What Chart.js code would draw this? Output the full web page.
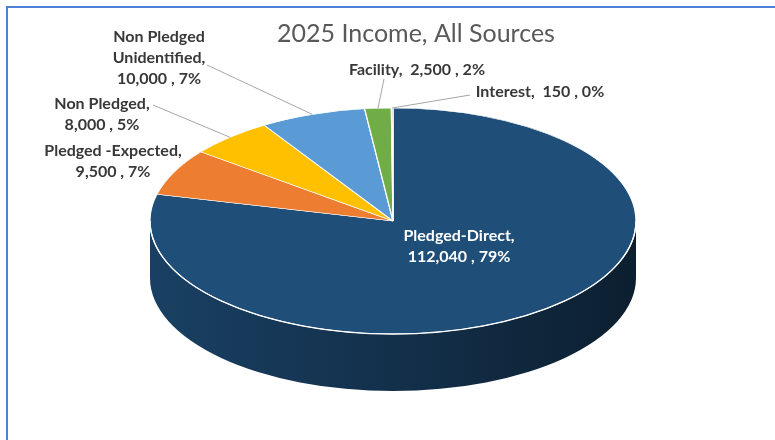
<!DOCTYPE html>
<html>
<head>
<meta charset="utf-8">
<script src="https://cdn.jsdelivr.net/npm/chart.js@4.4.1/dist/chart.umd.min.js"></script>
<style>
  body { margin: 0; background: #fff; }
  #wrap { position: relative; width: 775px; height: 440px; overflow: hidden; }
  #frame { position: absolute; left: 6px; top: 6px; width: 900px; height: 600px; border: 2px solid #4e7fd6; }
  canvas { position: absolute; left: 0; top: 0; }
</style>
</head>
<body>
<div id="wrap">
  <div id="frame"></div>
  <canvas id="grafico" width="775" height="440"></canvas>
</div>
<script>
// dados
const categorias = ["Pledged-Direct", "Pledged -Expected", "Non Pledged", "Non Pledged Unidentified", "Facility", "Interest"];
const valores = [112040, 9500, 8000, 10000, 2500, 150];
const percentuais = ["79%", "7%", "5%", "7%", "2%", "0%"];

// estilo
const cores = ["#1F4E79", "#ED7D31", "#FFC000", "#5B9BD5", "#70AD47", "#A5A5A5"];
const fonteRotulo = "bold 16px Lato";

// geometria da pizza "3D" (elipse do topo + altura da lateral)
const PIZZA = { cx: 393, cy: 221, rx: 243, ry: 113, profundidade: 57 };

// posicao dos rotulos (centro da 1a linha) e inicio da linha guia
const rotulos = [
  { x: 459, y: 236, cor: "#ffffff", linhas: 2 },
  { x: 113, y: 151, linhas: 2 },
  { x: 102, y: 104, linhas: 2, guia: [153, 105] },
  { x: 159, y: 37, linhas: 3, guia: [207, 65] },
  { x: 417, y: 70, linhas: 1, guia: [384, 79] },
  { x: 540, y: 92, linhas: 1, guia: [470, 95] }
];

function escurecer(hex, f) {
  const n = parseInt(hex.slice(1), 16);
  const r = Math.round(((n >> 16) & 255) * f);
  const g = Math.round(((n >> 8) & 255) * f);
  const b = Math.round((n & 255) * f);
  return `rgb(${r},${g},${b})`;
}

function textoRotulo(i, modo) {
  const nome = categorias[i];
  const valor = valores[i].toLocaleString("en-US");
  if (modo === 1) return [`${nome},  ${valor} , ${percentuais[i]}`];
  if (modo === 3) {
    const k = nome.lastIndexOf(" ");
    return [nome.slice(0, k), nome.slice(k + 1) + ",", `${valor} , ${percentuais[i]}`];
  }
  return [`${nome},`, `${valor} , ${percentuais[i]}`];
}

const pizza3d = {
  id: "pizza3d",
  beforeDatasetsDraw(chart) {
    const ctx = chart.ctx;
    const arcos = chart.getDatasetMeta(0).data;
    const { cx, cy, rx, ry, profundidade } = PIZZA;

    // lateral visivel (metade da frente)
    arcos.forEach((arco, i) => {
      const ini = Math.max(arco.startAngle, 0);
      const fim = Math.min(arco.endAngle, Math.PI);
      if (fim <= ini) return;
      const grad = ctx.createLinearGradient(cx - rx, 0, cx + rx, 0);
      grad.addColorStop(0, escurecer(cores[i], 0.82));
      grad.addColorStop(0.5, escurecer(cores[i], 0.62));
      grad.addColorStop(1, escurecer(cores[i], 0.4));
      ctx.beginPath();
      ctx.ellipse(cx, cy, rx, ry, 0, ini, fim);
      ctx.ellipse(cx, cy + profundidade, rx, ry, 0, fim, ini, true);
      ctx.closePath();
      ctx.fillStyle = grad;
      ctx.fill();
    });

    // achatar o topo
    const a = arcos[0];
    ctx.save();
    ctx.translate(cx, cy);
    ctx.scale(rx / a.outerRadius, ry / a.outerRadius);
    ctx.translate(-a.x, -a.y);
  },
  afterDatasetsDraw(chart) {
    const ctx = chart.ctx;
    ctx.restore();
    const { cx, cy, rx, ry } = PIZZA;
    // borda branca entre topo e lateral
    ctx.save();
    ctx.beginPath();
    ctx.ellipse(cx, cy, rx, ry, 0, 0, Math.PI);
    ctx.strokeStyle = "#ffffff";
    ctx.lineWidth = 1.3;
    ctx.stroke();
    ctx.restore();
  },
  afterDraw(chart) {
    const ctx = chart.ctx;
    const arcos = chart.getDatasetMeta(0).data;
    const { cx, cy, rx, ry } = PIZZA;
    ctx.save();
    // linhas guia
    rotulos.forEach((r, i) => {
      if (!r.guia) return;
      const meio = (arcos[i].startAngle + arcos[i].endAngle) / 2;
      ctx.beginPath();
      ctx.moveTo(r.guia[0], r.guia[1]);
      ctx.lineTo(cx + rx * Math.cos(meio), cy + ry * Math.sin(meio));
      ctx.strokeStyle = "#a6a6a6";
      ctx.lineWidth = 1;
      ctx.stroke();
    });
    // textos
    ctx.font = fonteRotulo;
    ctx.textAlign = "center";
    ctx.textBaseline = "middle";
    rotulos.forEach((r, i) => {
      ctx.fillStyle = r.cor || "#383838";
      textoRotulo(i, r.linhas).forEach((linha, j) => {
        ctx.fillText(linha, r.x, r.y + j * 21);
      });
    });
    ctx.restore();
  }
};

new Chart(document.getElementById("grafico"), {
  type: "pie",
  data: {
    labels: categorias,
    datasets: [{
      data: valores,
      backgroundColor: cores,
      borderColor: "#ffffff",
      borderWidth: 1,
      clip: false
    }]
  },
  options: {
    responsive: false,
    animation: false,
    events: [],
    layout: { padding: { left: 57 } },
    plugins: {
      legend: { display: false },
      tooltip: { enabled: false },
      title: {
        display: true,
        text: "2025 Income, All Sources",
        color: "#595959",
        font: { family: "Lato", size: 25, weight: "normal" },
        padding: { top: 19, bottom: 10 }
      }
    }
  },
  plugins: [pizza3d]
});
</script>
</body>
</html>
